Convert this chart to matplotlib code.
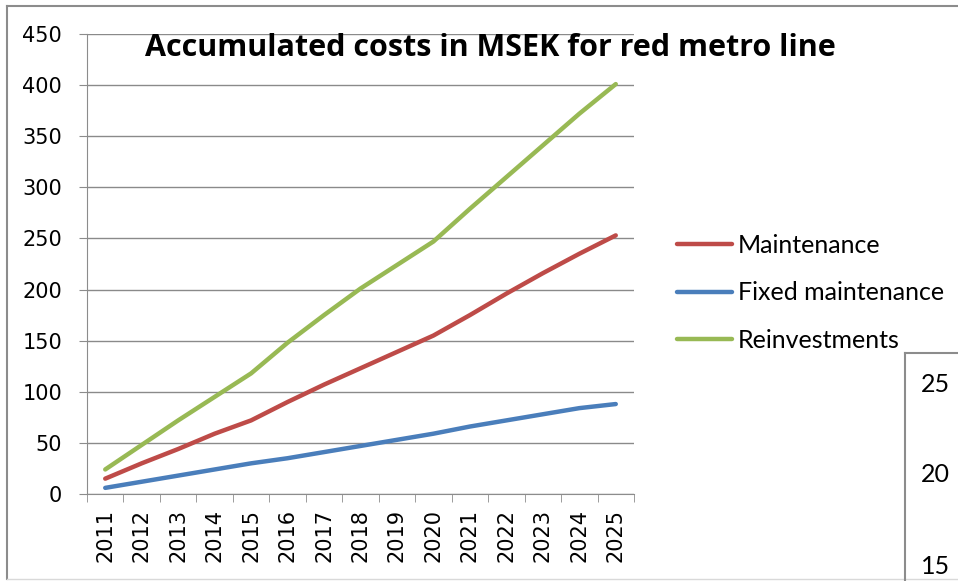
import matplotlib.pyplot as plt
from matplotlib.lines import Line2D
from matplotlib.ticker import MultipleLocator

years = [str(y) for y in range(2011, 2026)]
maintenance = [15, 30, 44, 59, 72, 90, 107, 123, 139, 155, 175, 196, 216, 235, 253]
fixed_maintenance = [6, 12, 18, 24, 30, 35, 41, 47, 53, 59, 66, 72, 78, 84, 88]
reinvestments = [24, 48, 72, 95, 118, 148, 175, 201, 224, 247, 279, 310, 341, 372, 401]

# neighbouring chart peeking in at the right edge
side_ticks = ["25", "20", "15"]

W, H = 958, 581
fig = plt.figure(figsize=(W / 100, H / 100), dpi=100)

def fx(px):
    return px / W

def fy(py):
    return 1 - py / H

# outer chart border
grey = "#8c8c8c"
fig.add_artist(Line2D([fx(7), fx(7)], [fy(6), fy(579)], color=grey, lw=1.5))
fig.add_artist(Line2D([fx(7), 1], [fy(6), fy(6)], color=grey, lw=1.5))
fig.add_artist(Line2D([fx(7), 1], [fy(579), fy(579)], color="#d9d9d9", lw=1))

ax = fig.add_axes([fx(87), fy(494), fx(634) - fx(87), fy(34) - fy(494)])

x = list(range(len(years)))
ax.plot(x, maintenance, color="#BE4B48", lw=3.2, label="Maintenance", solid_capstyle="round")
ax.plot(x, fixed_maintenance, color="#4A7EBB", lw=3.2, label="Fixed maintenance", solid_capstyle="round")
ax.plot(x, reinvestments, color="#98B954", lw=3.2, label="Reinvestments", solid_capstyle="round")

ax.set_xlim(-0.5, len(years) - 0.5)
ax.set_ylim(0, 450)
ax.yaxis.set_major_locator(MultipleLocator(50))
ax.grid(axis="y", color="#8a8a8a", lw=1)
ax.set_axisbelow(True)

ax.set_xticks(x)
ax.set_xticklabels(years, rotation=90, fontsize=15, family="DejaVu Sans")
ax.set_xticks([i - 0.5 for i in range(len(years) + 1)], minor=True)
ax.tick_params(axis="x", which="major", length=0, pad=11)
ax.tick_params(axis="x", which="minor", length=6, color=grey, direction="out")
ax.tick_params(axis="y", length=6, color=grey, labelsize=15, pad=12)
for lab in ax.get_yticklabels():
    lab.set_family("DejaVu Sans")

for side in ["top", "right"]:
    ax.spines[side].set_visible(False)
ax.spines["left"].set_color(grey)
ax.spines["bottom"].set_color(grey)

fig.text(fx(490), fy(48), "Accumulated costs in MSEK for red metro line",
         ha="center", va="center", fontsize=22, fontweight="bold", family="Open Sans")

ax.legend(loc="upper left", bbox_to_anchor=(fx(677), fy(234)), bbox_transform=fig.transFigure,
          frameon=False, prop={"family": "Lato", "size": 18}, handlelength=2.2,
          handletextpad=0.25, labelspacing=0.98, borderaxespad=0, borderpad=0)

# box of the next chart
fig.add_artist(Line2D([fx(905), fx(905)], [fy(353), 0], color=grey, lw=1.5))
fig.add_artist(Line2D([fx(905), 1], [fy(353), fy(353)], color=grey, lw=1.5))
for lab, py in zip(side_ticks, [385, 475, 567]):
    fig.text(fx(921), fy(py), lab, ha="left", va="center", fontsize=18, family="Lato")

fig.savefig("out.png", dpi=100)
